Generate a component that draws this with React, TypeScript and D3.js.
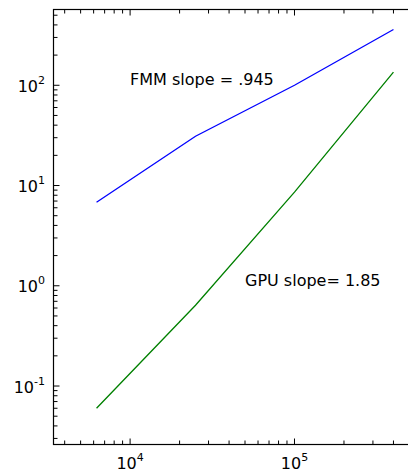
import { scaleLog, line, range } from "d3";

// problem sizes and timings
const sizes = [6250, 25000, 100000, 400000];
const fmmTimes = [6.8, 31, 100, 360];
const gpuTimes = [0.06, 0.64, 8.6, 135];

const xDecades = [4, 5];
const yDecades = [-1, 0, 1, 2];

const notes = [
  { text: "FMM slope = .945", x: 1e4, y: 100 },
  { text: "GPU slope= 1.85", x: 5e4, y: 1 },
];

export default function App() {
  const width = 408,
    height = 473;
  const left = 53.5,
    top = 9.5,
    bottom = 444.5,
    right = 416.2;
  const font = "DejaVu Sans, sans-serif";

  // the right part of the axes falls outside the picture
  const x = scaleLog().domain([3420, 5.5e5]).range([left, right]);
  const y = scaleLog().domain([0.0261, 570]).range([bottom, top]);

  const path = line<number>()
    .x((_, i) => x(sizes[i]))
    .y((d) => y(d));

  // minor ticks: 2..9 times every decade, kept inside the domain
  const minors = (dom: number[]) => {
    const out: number[] = [];
    for (let e = Math.floor(Math.log10(dom[0])); e <= Math.ceil(Math.log10(dom[1])); e++) {
      for (const m of range(2, 10)) {
        const v = m * Math.pow(10, e);
        if (v >= dom[0] && v <= dom[1]) out.push(v);
      }
    }
    return out;
  };
  const xMinor = minors(x.domain());
  const yMinor = minors(y.domain());
  const major = 6,
    minor = 4;

  return (
    <>
      <style>{"body{margin:0}"}</style>
      <svg width={width} height={height} style={{ display: "block", background: "#fff" }} fontFamily={font}>
        {/* lines */}
        <path d={path(fmmTimes) ?? ""} fill="none" stroke="#0000ff" strokeWidth={1.3} />
        <path d={path(gpuTimes) ?? ""} fill="none" stroke="#008000" strokeWidth={1.3} />

        {/* ticks, pointing inwards */}
        <g stroke="#000" strokeWidth={1}>
          {xDecades.map((e) => (
            <g key={"xM" + e}>
              <line x1={x(10 ** e)} x2={x(10 ** e)} y1={bottom} y2={bottom - major} />
              <line x1={x(10 ** e)} x2={x(10 ** e)} y1={top} y2={top + major} />
            </g>
          ))}
          {xMinor.map((v) => (
            <g key={"xm" + v}>
              <line x1={x(v)} x2={x(v)} y1={bottom} y2={bottom - minor} />
              <line x1={x(v)} x2={x(v)} y1={top} y2={top + minor} />
            </g>
          ))}
          {yDecades.map((e) => (
            <g key={"yM" + e}>
              <line x1={left} x2={left + major} y1={y(10 ** e)} y2={y(10 ** e)} />
              <line x1={right} x2={right - major} y1={y(10 ** e)} y2={y(10 ** e)} />
            </g>
          ))}
          {yMinor.map((v) => (
            <g key={"ym" + v}>
              <line x1={left} x2={left + minor} y1={y(v)} y2={y(v)} />
              <line x1={right} x2={right - minor} y1={y(v)} y2={y(v)} />
            </g>
          ))}
        </g>

        {/* frame */}
        <rect x={left} y={top} width={right - left} height={bottom - top} fill="none" stroke="#000" strokeWidth={1.2} />

        {/* tick labels */}
        {xDecades.map((e) => (
          <text key={"xl" + e} x={x(10 ** e)} y={469} textAnchor="middle" fontSize={16} fill="#000">
            10
            <tspan dy={-8} fontSize={11}>
              {e}
            </tspan>
          </text>
        ))}
        {yDecades.map((e) => (
          <text key={"yl" + e} x={45} y={y(10 ** e) + 6.5} textAnchor="end" fontSize={16} fill="#000">
            10
            <tspan dy={-8} fontSize={11}>
              {e}
            </tspan>
          </text>
        ))}

        {/* annotations */}
        {notes.map((n) => (
          <text key={n.text} x={x(n.x)} y={y(n.y)} fontSize={16} fill="#000">
            {n.text}
          </text>
        ))}
      </svg>
    </>
  );
}
